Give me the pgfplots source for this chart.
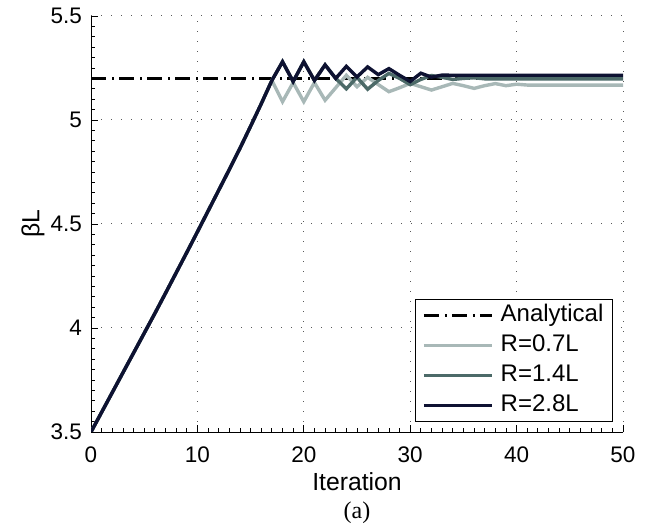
\documentclass[border=0pt]{standalone}
\usepackage{fontspec}
\setmainfont{Liberation Sans}
\newfontfamily\serif{Liberation Serif}
\usepackage{pgfplots}
\pgfplotsset{compat=1.18}

\definecolor{rlight}{HTML}{A8B8B7}
\definecolor{rmid}{HTML}{4C6A68}
\definecolor{rdark}{HTML}{0E1232}

\begin{document}
\begin{tikzpicture}
\path[use as bounding box] (-91bp,-93bp) rectangle (560bp,432bp);
\begin{axis}[
    scale only axis,
    width=532bp, height=416bp,
    xmin=0, xmax=50, ymin=3.5, ymax=5.5,
    xtick={0,10,20,30,40,50},
    ytick={3.5,4,4.5,5,5.5},
    minor x tick num=9, minor y tick num=9,
    axis x line*=bottom, axis y line*=left,
    axis line style={line width=0.8bp, -},
    tick align=inside,
    major tick length=7bp, minor tick length=3.5bp,
    every tick/.style={black, line width=0.8bp},
    xmajorgrids, ymajorgrids,
    major grid style={line width=1bp, dash pattern=on 1bp off 9bp, color=black!65},
    /pgf/number format/assume math mode=true,
    tick label style={font=\fontsize{22.5bp}{26bp}\selectfont},
    xticklabel style={anchor=base, inner sep=0bp, yshift=-30bp},
    yticklabel style={anchor=east, inner sep=0bp, xshift=-9bp},
    xlabel={Iteration}, ylabel={βL},
    every axis x label/.style={at={(axis description cs:0.5,0)}, anchor=base, yshift=-58bp,
        inner sep=0bp, font=\fontsize{24.75bp}{28bp}\selectfont},
    every axis y label/.style={at={(axis description cs:-0.109,0.5)}, anchor=center, rotate=90,
        font=\fontsize{24.75bp}{28bp}\selectfont},
    legend cell align=left,
    legend image code/.code={\draw[#1] (5bp,0bp) -- (73bp,0bp);},
    legend style={at={(0.981,0.024)}, anchor=south east, draw=black, line width=1bp,
        font=\fontsize{24bp}{28bp}\selectfont, inner xsep=7bp, inner ysep=3bp,
        row sep=4bp,
        nodes={text height=17bp, text depth=5bp, inner sep=2bp},
        /tikz/every odd column/.append style={column sep=5bp}},
]
\addplot[black, line width=3.5bp, dash pattern=on 15bp off 6bp on 2bp off 5bp] coordinates {(0,5.2)(50,5.2)};
\addlegendentry{Analytical}

\addplot[rlight, line width=3.4bp] coordinates {
(0,3.5)(1,3.595)(2,3.69)(3,3.785)(4,3.88)(5,3.975)(6,4.07)(7,4.167)(8,4.265)(9,4.363)
(10,4.462)(11,4.562)(12,4.662)(13,4.762)(14,4.864)(15,4.97)(16,5.078)(17,5.19)
(18,5.088)(19,5.18)(20,5.088)(21,5.18)(22,5.095)(23,5.155)(24,5.215)(25,5.16)
(26,5.205)(27,5.17)(28,5.136)(29,5.155)(30,5.176)(31,5.16)(32,5.144)(33,5.16)
(34,5.176)(35,5.165)(36,5.152)(37,5.165)(38,5.175)(39,5.165)(40,5.172)(41,5.168)
(42,5.168)(43,5.168)(44,5.168)(45,5.168)(46,5.168)(47,5.168)(48,5.168)(49,5.168)(50,5.168)};
\addlegendentry{R=0.7L}

\addplot[rmid, line width=3.4bp] coordinates {
(0,3.5)(1,3.595)(2,3.69)(3,3.785)(4,3.88)(5,3.975)(6,4.07)(7,4.167)(8,4.265)(9,4.363)
(10,4.462)(11,4.562)(12,4.662)(13,4.762)(14,4.864)(15,4.97)(16,5.078)(17,5.19)
(18,5.28)(19,5.185)(20,5.28)(21,5.19)(22,5.265)(23,5.2)(24,5.15)(25,5.205)
(26,5.148)(27,5.19)(28,5.224)(29,5.2)(30,5.17)(31,5.195)(32,5.214)(33,5.205)
(34,5.195)(35,5.2)(36,5.203)(37,5.198)(38,5.198)(39,5.198)(40,5.198)(41,5.198)
(42,5.198)(43,5.198)(44,5.198)(45,5.198)(46,5.198)(47,5.198)(48,5.198)(49,5.198)(50,5.198)};
\addlegendentry{R=1.4L}

\addplot[rdark, line width=3.4bp] coordinates {
(0,3.5)(1,3.595)(2,3.69)(3,3.785)(4,3.88)(5,3.975)(6,4.07)(7,4.167)(8,4.265)(9,4.363)
(10,4.462)(11,4.562)(12,4.662)(13,4.762)(14,4.864)(15,4.97)(16,5.078)(17,5.19)
(18,5.28)(19,5.185)(20,5.28)(21,5.19)(22,5.265)(23,5.2)(24,5.258)(25,5.207)
(26,5.255)(27,5.218)(28,5.247)(29,5.215)(30,5.185)(31,5.225)(32,5.206)(33,5.216)
(34,5.215)(35,5.215)(36,5.215)(37,5.215)(38,5.215)(39,5.215)(40,5.215)(41,5.215)
(42,5.215)(43,5.215)(44,5.215)(45,5.215)(46,5.215)(47,5.215)(48,5.215)(49,5.215)(50,5.215)};
\addlegendentry{R=2.8L}
\end{axis}
\node[anchor=base, font=\serif\fontsize{24bp}{28bp}\selectfont, inner sep=0bp] at (266bp,-86bp) {(a)};
\end{tikzpicture}
\end{document}
